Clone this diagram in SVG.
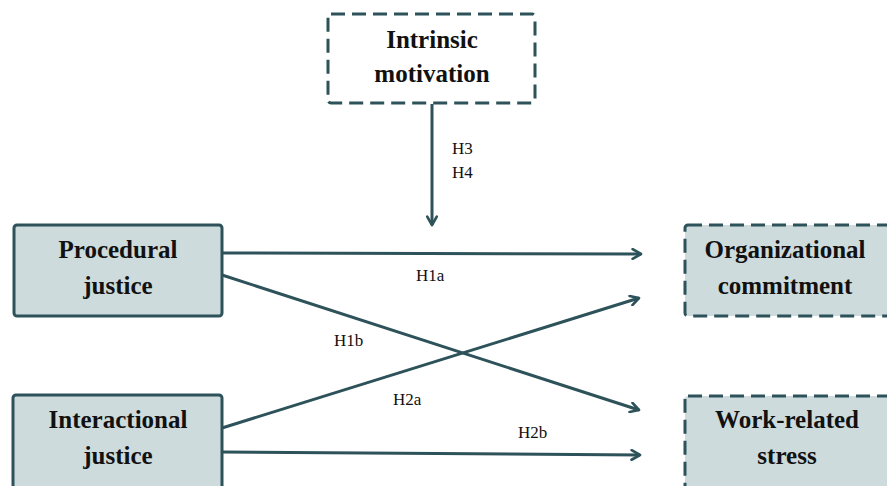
<svg xmlns="http://www.w3.org/2000/svg" width="887" height="486" viewBox="0 0 887 486">
<style>
.box{stroke:#2d525a;stroke-width:3;}
.solid{fill:#cddbdc;}
.dash{stroke-dasharray:14,7;}
.t{font-family:"Liberation Serif","Times New Roman",serif;font-weight:bold;font-size:25px;fill:#111;text-anchor:middle;}
.lbl{font-family:"Liberation Serif","Times New Roman",serif;font-size:17px;fill:#111;}
.c{stroke:#2d525a;stroke-width:3;fill:none;marker-end:url(#ah);}
</style>
<defs>
<marker id="ah" viewBox="0 0 10 10" refX="8" refY="5" markerWidth="4" markerHeight="4" orient="auto" markerUnits="strokeWidth">
<path d="M1,1 L8,5 L1,9" fill="none" stroke="#2d525a" stroke-width="2.2" stroke-linecap="round" stroke-linejoin="round"/>
</marker>
</defs>
<rect width="887" height="486" fill="#fff"/>
<g id="connectors">
<line class="c" x1="432" y1="104" x2="432" y2="225"/>
<line class="c" x1="222" y1="253" x2="641" y2="254"/>
<line class="c" x1="222" y1="275" x2="639" y2="410"/>
<line class="c" x1="222" y1="428" x2="639" y2="298"/>
<line class="c" x1="222" y1="452" x2="640" y2="455"/>
<text class="lbl" x="452" y="154">H3</text>
<text class="lbl" x="452" y="178">H4</text>
<text class="lbl" x="416" y="281">H1a</text>
<text class="lbl" x="334" y="346">H1b</text>
<text class="lbl" x="393" y="405">H2a</text>
<text class="lbl" x="518" y="438">H2b</text>
</g>
<g id="intrinsic">
<rect class="box dash" x="328" y="14" width="207" height="89" rx="3" fill="#fff"/>
<text class="t" x="432" y="48">Intrinsic</text>
<text class="t" x="432" y="82">motivation</text>
</g>
<g id="procedural">
<rect class="box solid" x="14" y="225" width="208" height="91" rx="3"/>
<text class="t" x="118" y="258">Procedural</text>
<text class="t" x="118" y="294">justice</text>
</g>
<g id="interactional">
<rect class="box solid" x="13" y="395" width="209" height="96" rx="3"/>
<text class="t" x="118" y="428">Interactional</text>
<text class="t" x="118" y="464">justice</text>
</g>
<g id="commitment">
<rect class="box solid dash" x="685" y="225" width="210" height="91" rx="3"/>
<text class="t" x="785" y="258">Organizational</text>
<text class="t" x="785" y="294">commitment</text>
</g>
<g id="stress">
<rect class="box solid dash" x="685" y="396" width="210" height="96" rx="3"/>
<text class="t" x="787" y="428">Work-related</text>
<text class="t" x="787" y="464">stress</text>
</g>
</svg>
